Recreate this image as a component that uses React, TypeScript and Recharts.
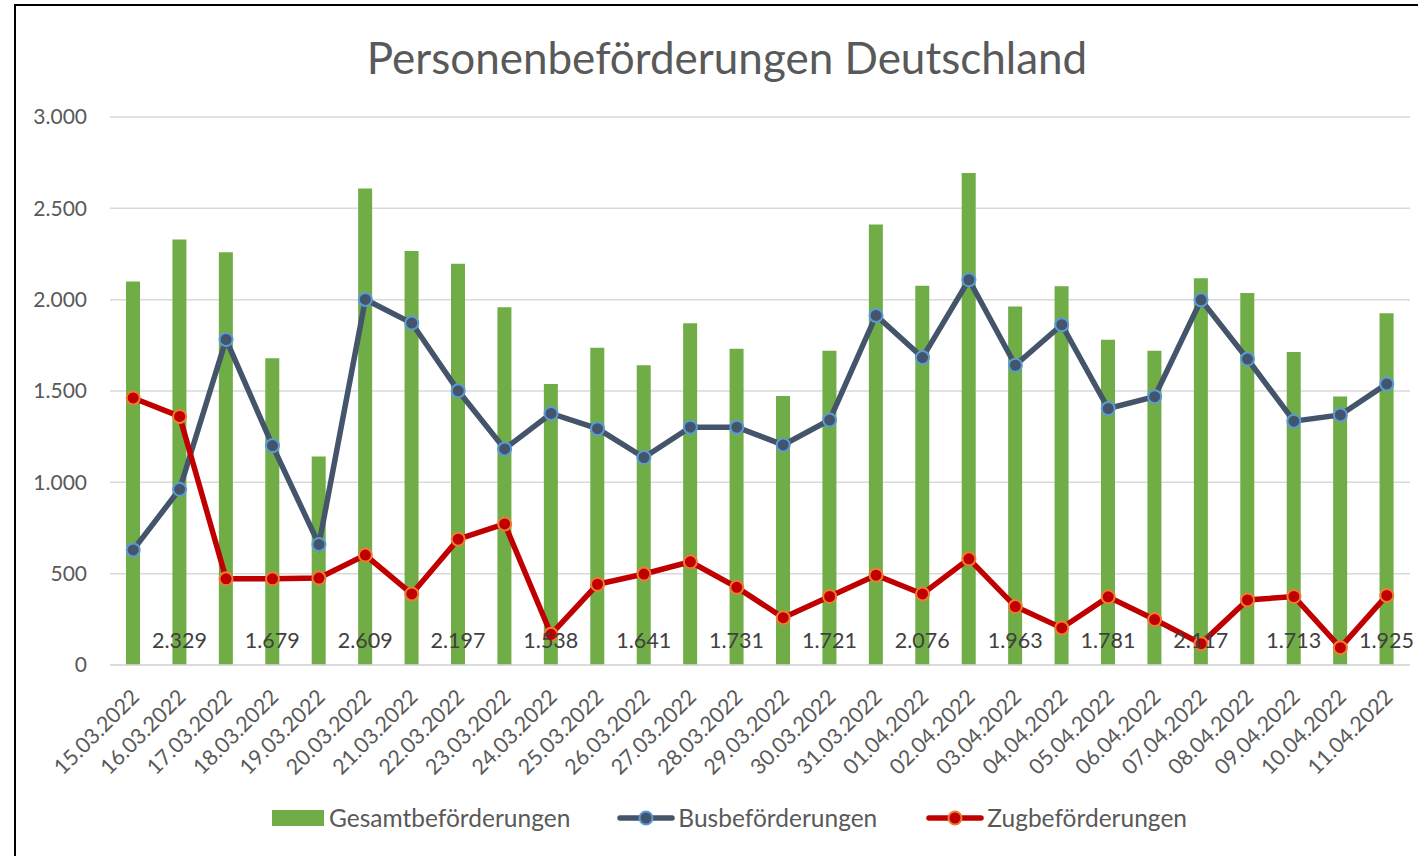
import React from 'react';
import { ComposedChart, Bar, Line, XAxis, YAxis, CartesianGrid, Legend, LabelList } from 'recharts';

const categories = [
  '15.03.2022', '16.03.2022', '17.03.2022', '18.03.2022', '19.03.2022', '20.03.2022', '21.03.2022',
  '22.03.2022', '23.03.2022', '24.03.2022', '25.03.2022', '26.03.2022', '27.03.2022', '28.03.2022',
  '29.03.2022', '30.03.2022', '31.03.2022', '01.04.2022', '02.04.2022', '03.04.2022', '04.04.2022',
  '05.04.2022', '06.04.2022', '07.04.2022', '08.04.2022', '09.04.2022', '10.04.2022', '11.04.2022',
];

const gesamt = [
  2099, 2329, 2259, 1679, 1141, 2609, 2267, 2197, 1958, 1538, 1737, 1641, 1871, 1731,
  1472, 1721, 2411, 2076, 2693, 1963, 2073, 1781, 1721, 2117, 2037, 1713, 1470, 1925,
];

const bus = [
  630, 962, 1782, 1201, 660, 2001, 1872, 1501, 1183, 1377, 1294, 1136, 1302, 1302,
  1205, 1341, 1914, 1683, 2109, 1641, 1863, 1404, 1469, 1999, 1675, 1335, 1369, 1539,
];

const zug = [
  1462, 1361, 472, 472, 476, 602, 389, 689, 772, 168, 442, 498, 565, 425,
  259, 375, 492, 389, 581, 320, 203, 373, 249, 117, 356, 375, 95, 381,
];

const yTicks = [0, 500, 1000, 1500, 2000, 2500, 3000];

const seriesNames = ['Gesamtbeförderungen', 'Busbeförderungen', 'Zugbeförderungen'];

const data = categories.map((c, i) => ({
  date: c,
  gesamt: gesamt[i],
  bus: bus[i],
  zug: zug[i],
  label: i % 2 === 1 ? gesamt[i] : null,
}));

const fmt = (v: number) => String(v).replace(/\B(?=(\d{3})+(?!\d))/g, '.');

const FONT = 'Lato, "Open Sans", sans-serif';
const GREEN = '#70AD47';
const NAVY = '#44546A';
const NAVY_EDGE = '#5B9BD5';
const RED = '#C00000';
const RED_EDGE = '#ED7D31';

const XTick = (props: any) => {
  const { x, y, payload } = props;
  return (
    <g transform={`translate(${x + 2},${y + 20})`}>
      <text x={0} y={0} dy="0.35em" textAnchor="end" transform="rotate(-45)" fill="#595959" fontSize={21.5} fontFamily={FONT}>
        {payload.value}
      </text>
    </g>
  );
};

const BarLabel = (props: any) => {
  const { x, y, width, height, value } = props;
  if (value === null || value === undefined) return null;
  return (
    <text x={x + width / 2} y={y + height - 25} dy="0.35em" textAnchor="middle" fill="#404040" fontSize={21.5} fontFamily={FONT}>
      {fmt(value)}
    </text>
  );
};

const makeDot = (fill: string, edge: string) => (props: any) => {
  const { cx, cy, index } = props;
  if (cx == null || cy == null) return <g key={index} />;
  return <circle key={index} cx={cx} cy={cy} r={6.5} fill={fill} stroke={edge} strokeWidth={2} />;
};

const LegendContent = () => (
  <div style={{ display: 'flex', alignItems: 'center', fontFamily: FONT, fontSize: 24.5, color: '#595959', whiteSpace: 'nowrap' }}>
    <div style={{ display: 'flex', alignItems: 'center' }}>
      <svg width={52} height={16} style={{ marginRight: 5 }}>
        <rect x={0} y={0} width={52} height={16} fill={GREEN} />
      </svg>
      <span>{seriesNames[0]}</span>
    </div>
    <div style={{ display: 'flex', alignItems: 'center', marginLeft: 47 }}>
      <svg width={58} height={18} style={{ marginRight: 3 }}>
        <line x1={3} y1={9} x2={55} y2={9} stroke={NAVY} strokeWidth={5.5} strokeLinecap="round" />
        <circle cx={29} cy={9} r={6.5} fill={NAVY} stroke={NAVY_EDGE} strokeWidth={2} />
      </svg>
      <span>{seriesNames[1]}</span>
    </div>
    <div style={{ display: 'flex', alignItems: 'center', marginLeft: 49 }}>
      <svg width={58} height={18} style={{ marginRight: 3 }}>
        <line x1={3} y1={9} x2={55} y2={9} stroke={RED} strokeWidth={5.5} strokeLinecap="round" />
        <circle cx={29} cy={9} r={6.5} fill={RED} stroke={RED_EDGE} strokeWidth={2} />
      </svg>
      <span>{seriesNames[2]}</span>
    </div>
  </div>
);

export default function App() {
  return (
    <div style={{ position: 'absolute', left: 0, top: 0, width: 1418, height: 856, background: '#fff', overflow: 'hidden', fontFamily: FONT }}>
      <div style={{ position: 'absolute', left: 14, top: 4, width: 1420, height: 870, borderTop: '2px solid #000', borderLeft: '2px solid #000' }} />
      <div style={{ position: 'absolute', left: 0, width: 1454, top: 28, textAlign: 'center', fontSize: 44, color: '#595959', lineHeight: '58px' }}>
        Personenbeförderungen Deutschland
      </div>
      <div style={{ position: 'absolute', left: 0, top: 0 }}>
        <ComposedChart width={1418} height={856} data={data} margin={{ top: 117, right: 8, left: 0, bottom: 91 }}>
          <CartesianGrid vertical={false} stroke="#D9D9D9" strokeWidth={1.5} />
          <XAxis dataKey="date" interval={0} height={100} tickLine={false} axisLine={{ stroke: '#D9D9D9', strokeWidth: 1.5 }} tick={<XTick />} />
          <YAxis
            domain={[0, 3000]}
            ticks={yTicks}
            width={110}
            axisLine={false}
            tickLine={false}
            tickSize={0}
            tickMargin={23}
            tickFormatter={fmt}
            tick={{ fill: '#595959', fontSize: 21, fontFamily: FONT }}
          />
          <Bar dataKey="gesamt" name={seriesNames[0]} fill={GREEN} barSize={14} isAnimationActive={false}>
            <LabelList dataKey="label" content={<BarLabel />} />
          </Bar>
          <Line type="linear" dataKey="bus" name={seriesNames[1]} stroke={NAVY} strokeWidth={5.5} dot={makeDot(NAVY, NAVY_EDGE)} activeDot={false} isAnimationActive={false} />
          <Line type="linear" dataKey="zug" name={seriesNames[2]} stroke={RED} strokeWidth={5.5} dot={makeDot(RED, RED_EDGE)} activeDot={false} isAnimationActive={false} />
          <Legend
            layout="horizontal"
            verticalAlign="middle"
            align="center"
            content={<LegendContent />}
            wrapperStyle={{ position: 'absolute', top: 803, left: 272, width: 'auto' }}
          />
        </ComposedChart>
      </div>
    </div>
  );
}
